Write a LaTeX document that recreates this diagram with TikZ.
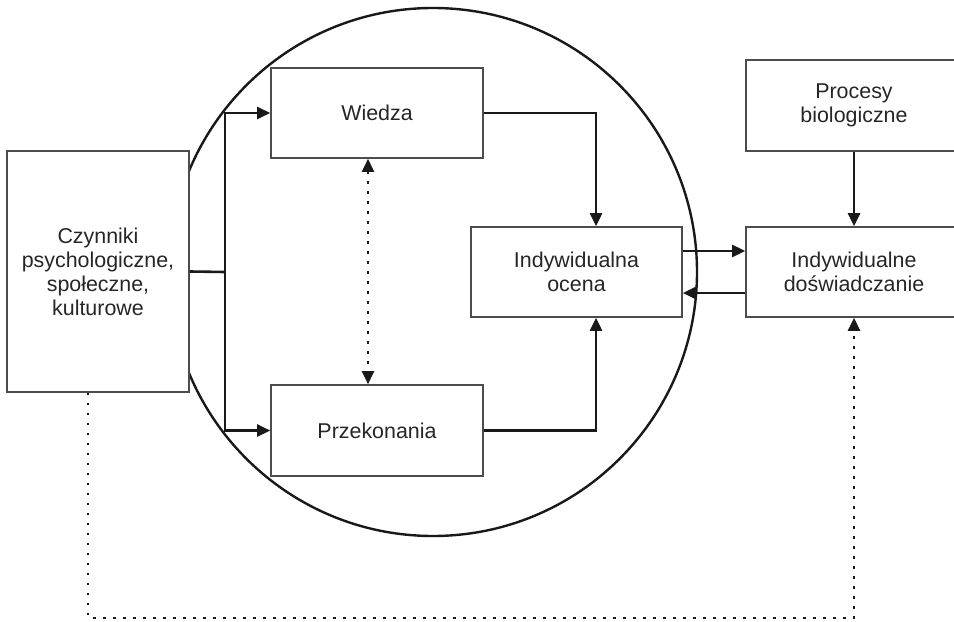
\documentclass[tikz,border=0pt]{standalone}
\usepackage{fontspec}
\setmainfont{Liberation Sans}
\usetikzlibrary{arrows.meta}

\begin{document}
\begin{tikzpicture}[x=1bp, y=-1bp, >={Triangle[length=13bp,width=12bp]},
  box/.style={draw=black!70, fill=white, line width=1.6bp, inner sep=0pt, align=center,
    text=black!85, font=\fontsize{21.5}{24}\selectfont},
  link/.style={line width=2.6bp, draw=black!90},
  relation/.style={line width=2.5bp, draw=black!90, dash pattern=on 2.5bp off 7.5bp}]
  \useasboundingbox (0,0) rectangle (954,622);

  % Circle
  \node (mind) at (433,272) [circle, draw=black!90, line width=2.4bp, minimum size=528bp] {};

  % States
  \node (factors) at (98,271.5) [box, minimum width=182bp, minimum height=241bp] {Czynniki\\psychologiczne,\\społeczne,\\kulturowe};

  \node (knowledge) at (377,113) [box, minimum width=212bp, minimum height=90bp] {Wiedza};
  \node (beliefs) at (377,430.5) [box, minimum width=212bp, minimum height=91bp] {Przekonania};

  \node (appraisal) at (576.5,272) [box, minimum width=211bp, minimum height=90bp] {Indywidualna\\ocena};

  \node (biology) at (854,105.5) [box, minimum width=216bp, minimum height=91bp] {Procesy\\biologiczne};
  \node (experience) at (854,272) [box, minimum width=216bp, minimum height=90bp] {Indywidualne\\doświadczanie};

  \coordinate (split) at (225,272);

  % Edges
  \draw[link] (factors.east) -- (split);
  \draw[link, ->] (split) |- (knowledge);
  \draw[link, ->] (split) |- (beliefs);

  \draw[link, ->] (knowledge.east) -| ([xshift=19.5bp]appraisal.north);
  \draw[link, ->] (beliefs.east) -| ([xshift=19.5bp]appraisal.south);

  \draw[link, ->] ([yshift=21bp]appraisal.east) -- ([yshift=21bp]experience.west);
  \draw[link, ->] ([yshift=-21bp]experience.west) -- ([yshift=-21bp]appraisal.east);
  \draw[link, ->] (biology) -- (experience);

  % Dotted relations
  \draw[relation, <->] ([xshift=-9bp]knowledge.south) -- ([xshift=-9bp]beliefs.north);
  \draw[relation, ->] ([xshift=-10bp]factors.south) -- ++(0,225) -| (experience.south);
\end{tikzpicture}
\end{document}
